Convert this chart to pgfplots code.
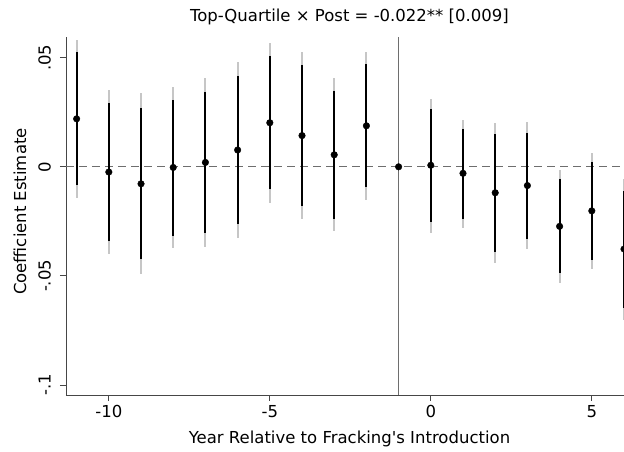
\documentclass[border=0pt]{standalone}
\usepackage{fontspec}
\setmainfont{DejaVu Sans}
\newfontfamily\plainfont{DejaVu Sans}
\usepackage{pgfplots}
\pgfplotsset{compat=1.18}
\usepackage{pgfplotstable}
\definecolor{cigray}{RGB}{198,198,198}
\definecolor{axgray}{RGB}{70,70,70}
\definecolor{refgray}{RGB}{110,110,110}

\pgfplotstableread{
x    coef     lo90     hi90     lo95     hi95
-11  0.0220  -0.0083   0.0524  -0.0142   0.0582
-10 -0.0024  -0.0339   0.0291  -0.0401   0.0353
-9  -0.0078  -0.0424   0.0269  -0.0493   0.0338
-8  -0.0003  -0.0315   0.0308  -0.0374   0.0368
-7   0.0020  -0.0304   0.0344  -0.0366   0.0406
-6   0.0077  -0.0262   0.0414  -0.0327   0.0480
-5   0.0202  -0.0103   0.0506  -0.0164   0.0567
-4   0.0143  -0.0179   0.0465  -0.0239   0.0525
-3   0.0055  -0.0237   0.0348  -0.0296   0.0406
-2   0.0188  -0.0093   0.0472  -0.0152   0.0525
0    0.0007  -0.0251   0.0264  -0.0302   0.0312
1   -0.0030  -0.0238   0.0175  -0.0279   0.0216
2   -0.0119  -0.0391   0.0150  -0.0442   0.0201
3   -0.0086  -0.0329   0.0157  -0.0376   0.0205
4   -0.0273  -0.0489  -0.0057  -0.0531  -0.0014
5   -0.0202  -0.0427   0.0020  -0.0469   0.0062
6   -0.0377  -0.0647  -0.0109  -0.0701  -0.0056
}\ci

\pgfplotstableread{
x    coef
-11  0.0220
-10 -0.0024
-9  -0.0078
-8  -0.0003
-7   0.0020
-6   0.0077
-5   0.0202
-4   0.0143
-3   0.0055
-2   0.0188
-1   0.0000
0    0.0007
1   -0.0030
2   -0.0119
3   -0.0086
4   -0.0273
5   -0.0202
6   -0.0377
}\pts

\begin{document}
\begin{tikzpicture}
\begin{axis}[
  scale only axis, width=558pt, height=358pt,
  xmin=-11.33, xmax=6, ymin=-0.1046, ymax=0.0595,
  axis lines*=left,
  axis line style={axgray, line width=0.9pt, -},
  tick align=outside, major tick length=6pt,
  every tick/.style={axgray, line width=0.9pt},
  xtick={-10,-5,0,5},
  ytick={-0.1,-0.05,0,0.05}, yticklabels={-.1,-.05,0,.05},
  /pgf/number format/assume math mode=true,
  tick label style={font=\fontsize{16.5}{19}\selectfont},
  xticklabel style={anchor=base, yshift=-16.3pt},
  yticklabel style={xshift=-9.3pt, rotate=90, anchor=base},
  title={Top-Quartile × Post = -0.022** [0.009]},
  title style={at={(axis description cs:0.508,1)}, anchor=base, yshift=9pt, font=\fontsize{16.5}{19}\selectfont},
  xlabel={Year Relative to Fracking{\plainfont '}s Introduction},
  xlabel style={at={(axis description cs:0.508,0)}, anchor=base, yshift=-49pt, font=\fontsize{16.5}{19}\selectfont},
  ylabel={Coefficient Estimate},
  ylabel style={at={(axis description cs:-0.0824,0.5126)}, anchor=center, font=\fontsize{16.5}{19}\selectfont},
  clip marker paths=true,
  clip=true,
]
\coordinate (SW) at (rel axis cs:0,0);
\coordinate (NE) at (rel axis cs:1,1);
% reference lines
\addplot[refgray, line width=1.1pt, dash pattern=on 8pt off 5pt, forget plot] coordinates {(-11.33,0) (6,0)};
\addplot[refgray, line width=1pt, forget plot] coordinates {(-1,-0.1046) (-1,0.0595)};
% 95% CI
\addplot[draw=none, mark=none, forget plot,
  error bars/.cd, y dir=both, y explicit, error mark=none,
  error bar style={cigray, line width=1.9pt}]
  table[x=x, y=coef, y error plus expr=\thisrow{hi95}-\thisrow{coef}, y error minus expr=\thisrow{coef}-\thisrow{lo95}] {\ci};
% 90% CI
\addplot[draw=none, mark=none, forget plot,
  error bars/.cd, y dir=both, y explicit, error mark=none,
  error bar style={black, line width=1.9pt}]
  table[x=x, y=coef, y error plus expr=\thisrow{hi90}-\thisrow{coef}, y error minus expr=\thisrow{coef}-\thisrow{lo90}] {\ci};
% point estimates
\addplot[only marks, mark=*, mark size=3.3pt, mark options={fill=black, draw=black}] table[x=x, y=coef] {\pts};
\end{axis}
\pgfresetboundingbox
\path ([shift={(-66pt,-57pt)}]SW) rectangle ([shift={(0pt,37pt)}]NE);
\end{tikzpicture}
\end{document}
